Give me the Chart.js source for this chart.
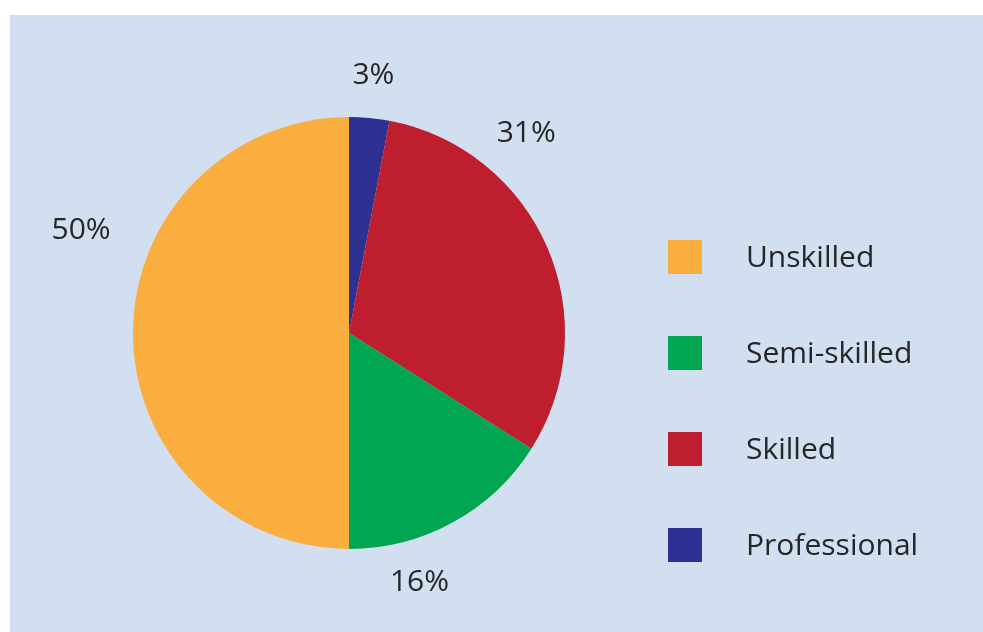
<!DOCTYPE html>
<html>
<head>
<meta charset="utf-8">
<script src="https://cdn.jsdelivr.net/npm/chart.js@4"></script>
<style>
  html, body { margin: 0; padding: 0; background: #ffffff; }
  #panel {
    position: absolute;
    left: 10px;
    top: 15px;
    width: 973px;
    height: 617px;
    background: #d2dff1;
  }
  #panel canvas { display: block; }
</style>
</head>
<body>
<div id="panel"><canvas id="skills" width="973" height="617"></canvas></div>
<script>
// slices go clockwise from 12 o'clock
const categories = ['Professional', 'Skilled', 'Semi-skilled', 'Unskilled'];
const shares = [3, 31, 16, 50];
const sliceColors = ['#2e3192', '#be1e2d', '#00a651', '#fbae40'];

const TEXT_COLOR = '#262626';
const FONT = '"Open Sans", Lato, sans-serif';

// percent labels sit outside the rim; nudge (deg) and gap (px) keep them clear
const percentLabels = {
  id: 'percentLabels',
  afterDatasetsDraw(chart, args, opts) {
    const ctx = chart.ctx;
    const arcs = chart.getDatasetMeta(0).data;
    ctx.save();
    ctx.fillStyle = TEXT_COLOR;
    ctx.font = opts.size + 'px ' + FONT;
    ctx.textAlign = 'center';
    ctx.textBaseline = 'middle';
    arcs.forEach((arc, i) => {
      const p = arc.getProps(['x', 'y', 'startAngle', 'endAngle', 'outerRadius'], true);
      const mid = (p.startAngle + p.endAngle) / 2 + opts.nudge[i] * Math.PI / 180;
      const r = p.outerRadius + opts.gap[i];
      ctx.fillText(shares[i] + '%', p.x + Math.cos(mid) * r, p.y + Math.sin(mid) * r);
    });
    ctx.restore();
  }
};

// legend on the right, listed bottom slice first
const sideLegend = {
  id: 'sideLegend',
  afterDraw(chart, args, opts) {
    const ctx = chart.ctx;
    const labels = chart.data.labels;
    const colors = chart.data.datasets[0].backgroundColor;
    ctx.save();
    ctx.font = opts.size + 'px ' + FONT;
    ctx.textBaseline = 'middle';
    ctx.textAlign = 'left';
    for (let k = 0; k < labels.length; k++) {
      const i = labels.length - 1 - k;
      const cy = opts.top + k * opts.step;
      ctx.fillStyle = colors[i];
      ctx.fillRect(opts.left, cy - opts.box / 2, opts.box, opts.box);
      ctx.fillStyle = TEXT_COLOR;
      ctx.fillText(labels[i], opts.left + opts.textOffset, cy + opts.textDrop);
    }
    ctx.restore();
  }
};

new Chart(document.getElementById('skills'), {
  type: 'pie',
  data: {
    labels: categories,
    datasets: [{
      data: shares,
      backgroundColor: sliceColors,
      borderWidth: 0,
      hoverOffset: 0
    }]
  },
  options: {
    responsive: false,
    animation: false,
    layout: {
      padding: { left: 123, right: 418, top: 102, bottom: 83 }
    },
    plugins: {
      legend: { display: false },
      tooltip: { enabled: false },
      percentLabels: {
        size: 30,
        nudge: [0, -25, 13, 21],
        gap: [43, 51, 43, 71]
      },
      sideLegend: {
        size: 30,
        left: 658,
        top: 242,
        step: 96,
        box: 34,
        textOffset: 78,
        textDrop: 1
      }
    }
  },
  plugins: [percentLabels, sideLegend]
});
</script>
</body>
</html>
